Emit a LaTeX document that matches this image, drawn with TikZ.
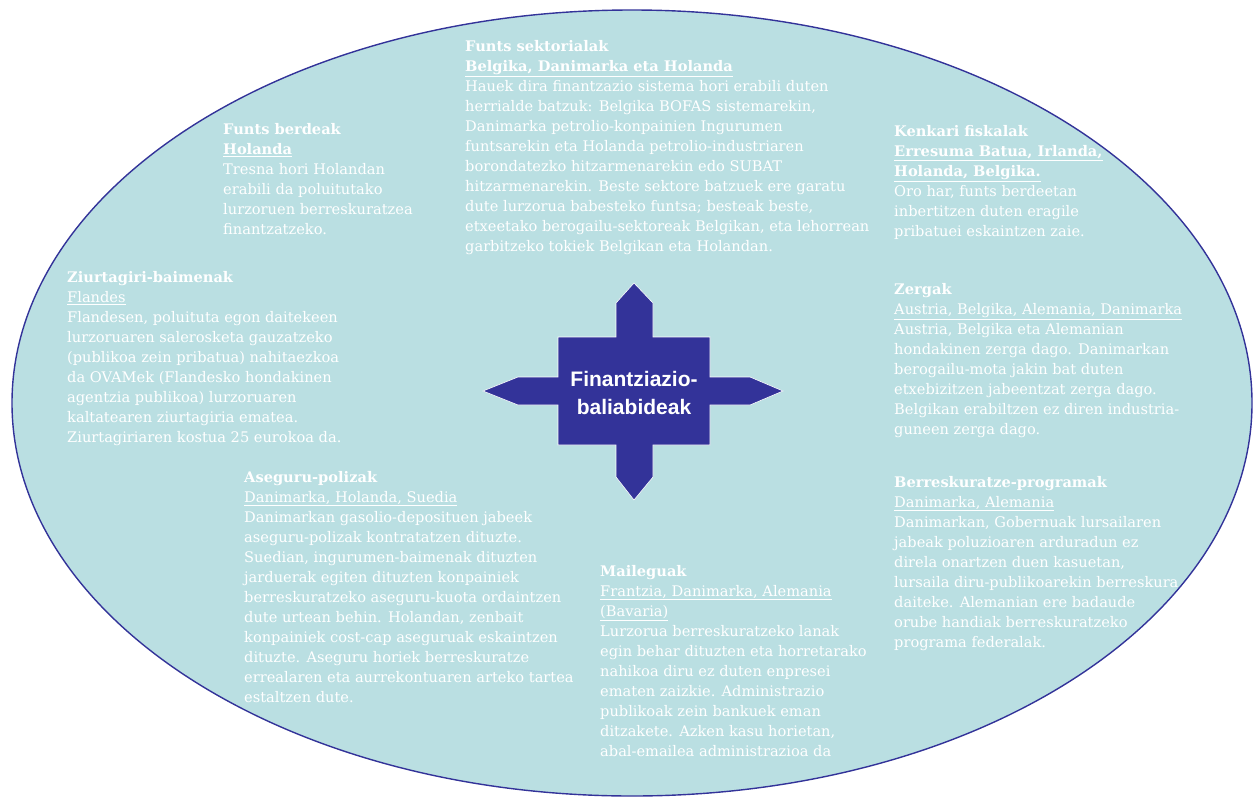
\documentclass[tikz,border=0pt]{standalone}
\usepackage{fontspec}
\setmainfont{DejaVu Serif}
\newfontfamily\crossfont{Liberation Sans}
\usepackage{tikz}
\definecolor{lakeblue}{HTML}{BADFE2}
\definecolor{inkblue}{HTML}{333399}
\def\blurbsize{\fontsize{14.6}{20}\selectfont}
\def\hubsize{\fontsize{21}{28}\selectfont}

\begin{document}
\begin{tikzpicture}[x=1pt,y=-1pt,
  blurb/.style={anchor=north west,inner sep=0pt,align=left,text=white,font=\blurbsize}]
\useasboundingbox (0,0) rectangle (1255,798);
% background oval
\draw[fill=lakeblue,draw=inkblue,line width=1.4pt] (632,403) ellipse [x radius=620,y radius=393];
% central cross
\fill[inkblue,draw=white,line width=0.6pt] (558,337) -- (616,337) -- (616,303) -- (634,283) -- (653,303) -- (653,337)
  -- (710,337) -- (710,377) -- (750,377) -- (783,391) -- (750,405) -- (710,405)
  -- (710,445) -- (653,445) -- (653,477) -- (634,500) -- (616,477) -- (616,445)
  -- (558,445) -- (558,405) -- (518,405) -- (483,391) -- (518,377) -- (558,377) -- cycle;
\node[font=\crossfont\bfseries\hubsize,text=white,align=center] (hub) at (634,393) {Finantziazio-\\baliabideak};

\node[blurb] (sektorial) at (465,40) {\textbf{Funts sektorialak}\\
\textbf{\underline{Belgika, Danimarka eta Holanda}}\\
Hauek dira finantzazio sistema hori erabili duten\\
herrialde batzuk: Belgika BOFAS sistemarekin,\\
Danimarka petrolio-konpainien Ingurumen\\
funtsarekin eta Holanda petrolio-industriaren\\
borondatezko hitzarmenarekin edo SUBAT\\
hitzarmenarekin. Beste sektore batzuek ere garatu\\
dute lurzorua babesteko funtsa; besteak beste,\\
etxeetako berogailu-sektoreak Belgikan, eta lehorrean\\
garbitzeko tokiek Belgikan eta Holandan.};

\node[blurb] (berdeak) at (223,123) {\textbf{Funts berdeak}\\
\textbf{\underline{Holanda}}\\
Tresna hori Holandan\\
erabili da poluitutako\\
lurzoruen berreskuratzea\\
finantzatzeko.};

\node[blurb] (kenkari) at (894,125) {\textbf{Kenkari fiskalak}\\
\textbf{\underline{Erresuma Batua, Irlanda,}}\\
\textbf{\underline{Holanda, Belgika.}}\\
Oro har, funts berdeetan\\
inbertitzen duten eragile\\
pribatuei eskaintzen zaie.};

\node[blurb] (ziurtagiri) at (67,271) {\textbf{Ziurtagiri-baimenak}\\
\underline{Flandes}\\
Flandesen, poluituta egon daitekeen\\
lurzoruaren salerosketa gauzatzeko\\
(publikoa zein pribatua) nahitaezkoa\\
da OVAMek (Flandesko hondakinen\\
agentzia publikoa) lurzoruaren\\
kaltatearen ziurtagiria ematea.\\
Ziurtagiriaren kostua 25 eurokoa da.};

\node[blurb] (zergak) at (894,283) {\textbf{Zergak}\\
\underline{Austria, Belgika, Alemania, Danimarka}\\
Austria, Belgika eta Alemanian\\
hondakinen zerga dago. Danimarkan\\
berogailu-mota jakin bat duten\\
etxebizitzen jabeentzat zerga dago.\\
Belgikan erabiltzen ez diren industria-\\
guneen zerga dago.};

\node[blurb] (aseguru) at (244,471) {\textbf{Aseguru-polizak}\\
\underline{Danimarka, Holanda, Suedia}\\
Danimarkan gasolio-deposituen jabeek\\
aseguru-polizak kontratatzen dituzte.\\
Suedian, ingurumen-baimenak dituzten\\
jarduerak egiten dituzten konpainiek\\
berreskuratzeko aseguru-kuota ordaintzen\\
dute urtean behin. Holandan, zenbait\\
konpainiek cost-cap aseguruak eskaintzen\\
dituzte. Aseguru horiek berreskuratze\\
errealaren eta aurrekontuaren arteko tartea\\
estaltzen dute.};

\node[blurb] (mailegu) at (600,565) {\textbf{Maileguak}\\
\underline{Frantzia, Danimarka, Alemania}\\
\underline{(Bavaria)}\\
Lurzorua berreskuratzeko lanak\\
egin behar dituzten eta horretarako\\
nahikoa diru ez duten enpresei\\
ematen zaizkie. Administrazio\\
publikoak zein bankuek eman\\
ditzakete. Azken kasu horietan,\\
abal-emailea administrazioa da};

\node[blurb] (berreskuratze) at (894,476) {\textbf{Berreskuratze-programak}\\
\underline{Danimarka, Alemania}\\
Danimarkan, Gobernuak lursailaren\\
jabeak poluzioaren arduradun ez\\
direla onartzen duen kasuetan,\\
lursaila diru-publikoarekin berreskura\\
daiteke. Alemanian ere badaude\\
orube handiak berreskuratzeko\\
programa federalak.};
\end{tikzpicture}
\end{document}
